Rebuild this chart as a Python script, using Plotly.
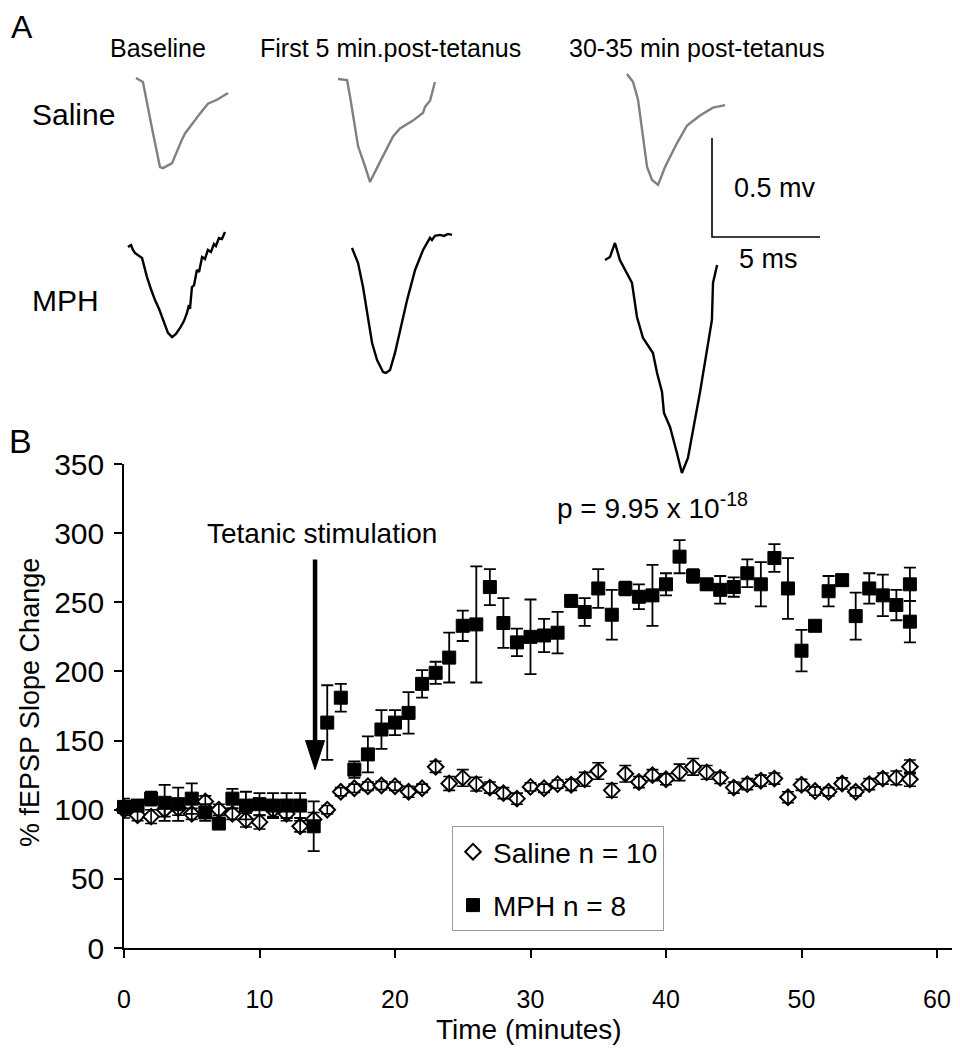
import plotly.graph_objects as go

# ---------------- Panel B data ----------------
time_min = [0, 1, 2, 3, 4, 5, 6, 7, 8, 9, 10, 11, 12, 13, 14, 15, 16, 17, 18, 19,
            20, 21, 22, 23, 24, 25, 26, 27, 28, 29, 30, 31, 32, 33, 34, 35, 36, 37, 38, 39,
            40, 41, 42, 43, 44, 45, 46, 47, 48, 49, 50, 51, 52, 53, 54, 55, 56, 57, 58, 58]

mph_mean = [102, 103, 108, 105, 104, 108, 98, 90, 108, 103, 104, 103, 103, 103, 88, 163, 181, 129, 140, 158,
            163, 170, 191, 199, 210, 233, 234, 261, 235, 221, 225, 226, 228, 251, 243, 260, 241, 260, 254, 255,
            263, 283, 269, 263, 259, 261, 271, 263, 282, 260, 215, 233, 258, 266, 240, 260, 255, 248, 263, 236]
mph_sem = [6, 4, 5, 13, 12, 11, 6, 4, 7, 10, 8, 9, 9, 9, 18, 27, 10, 6, 13, 14,
           9, 15, 10, 8, 18, 11, 42, 13, 18, 10, 27, 12, 15, 4, 10, 14, 18, 5, 9, 22,
           8, 12, 5, 4, 10, 7, 10, 16, 10, 22, 15, 3, 11, 4, 17, 11, 15, 11, 12, 15]

sal_mean = [100, 96, 95, 100, 101, 97, 106, 100, 97, 92.5, 91, 100, 97, 88, 93, 100, 113, 115.5, 117, 117.5,
            117, 113, 115.5, 131, 119, 123, 118.5, 116, 112, 108, 116.5, 115.5, 118.5, 118, 122, 128, 114, 126, 120, 125,
            122, 127, 131, 127, 123, 116, 118.5, 121, 122.5, 109, 118, 113.5, 113, 119, 113, 118.5, 122.5, 123, 131, 122]
sal_sem = [6, 4, 5, 5, 5, 4, 4, 4, 4, 5, 5, 5, 5, 4, 5, 3, 3, 3, 3, 3,
           3, 4, 3, 4, 5, 6, 5, 4, 4, 4, 3, 3, 3, 4, 5, 6, 5, 6, 4, 4,
           4, 6, 6, 5, 4, 4, 4, 4, 4, 4, 4, 3, 3, 4, 3, 4, 4, 5, 5, 5]

x_ticks = [0, 10, 20, 30, 40, 50, 60]
y_ticks = [0, 50, 100, 150, 200, 250, 300, 350]

# ---------------- Panel A field-potential traces (ms, mV from trace start) ----------------
sal_base_t = [0, 0.32, 0.79, 1.11, 1.25, 1.67, 2.13, 2.27, 2.96, 3.33, 3.75, 4.26]
sal_base_v = [0, -0.02, -0.28, -0.45, -0.455, -0.43, -0.31, -0.28, -0.18, -0.13, -0.11, -0.076]

sal_first_t = [0, 0.42, 0.56, 0.93, 1.25, 1.48, 1.94, 2.55, 2.87, 3.47, 3.94, 4.03, 4.26, 4.49]
sal_first_v = [0, -0.005, -0.09, -0.34, -0.44, -0.52, -0.42, -0.29, -0.25, -0.21, -0.17, -0.14, -0.11, -0.015]

sal_late_t = [0, 0.28, 0.51, 0.74, 0.93, 1.16, 1.44, 1.76, 2.31, 2.78, 3.38, 3.98, 4.54]
sal_late_v = [0, -0.04, -0.13, -0.33, -0.47, -0.535, -0.56, -0.47, -0.35, -0.26, -0.21, -0.17, -0.157]

mph_base_t = [0, 0.14, 0.23, 0.32, 0.65, 0.88, 1.06, 1.25, 1.44, 1.62, 1.85, 2.04, 2.22, 2.41, 2.59, 2.73,
              2.82, 2.87, 2.96, 3.06, 3.19, 3.29, 3.43, 3.56, 3.70, 3.84, 3.98, 4.07, 4.21, 4.35, 4.49]
mph_base_v = [0, 0.01, -0.015, -0.03, -0.056, -0.152, -0.212, -0.268, -0.313, -0.369, -0.434, -0.455, -0.439,
              -0.409, -0.374, -0.333, -0.293, -0.313, -0.202, -0.192, -0.116, -0.126, -0.051, -0.061, -0.015,
              -0.025, 0.015, 0.005, 0.045, 0.04, 0.076]

mph_first_t = [0, 0.28, 0.51, 0.74, 0.93, 1.16, 1.44, 1.57, 1.76, 1.99, 2.22, 2.55, 2.92, 3.29, 3.47, 3.61,
               3.70, 3.84, 4.07, 4.26, 4.44, 4.63]
mph_first_v = [0, -0.076, -0.197, -0.364, -0.480, -0.566, -0.626, -0.631, -0.616, -0.530, -0.414, -0.263,
               -0.111, -0.010, 0.025, 0.051, 0.040, 0.061, 0.066, 0.061, 0.071, 0.066]

mph_late_t = [0, 0.23, 0.46, 0.69, 1.25, 1.48, 1.76, 2.22, 2.41, 2.64, 2.73, 3.01, 3.33, 3.56, 3.84, 4.07,
              4.40, 4.72, 4.95, 5.0, 5.19]
mph_late_v = [0, 0.015, 0.086, 0, -0.116, -0.288, -0.394, -0.47, -0.571, -0.667, -0.773, -0.843, -0.975,
              -1.076, -1.0, -0.869, -0.667, -0.455, -0.303, -0.116, -0.025]

scale_ms = 5
scale_mv = 0.5

# ---------------- Layout geometry ----------------
PAGE_W, PAGE_H = 960, 1050
BODY = 8                      # default page margin around the plot div
W, H = PAGE_W - BODY, PAGE_H - BODY
PX_PER_MS = 21.6
PX_PER_MV = 198.0
FONT = "Arial, Liberation Sans, Helvetica, sans-serif"
GRAY = "#808080"


def fx(px):
    return (px - BODY) / W


def fy(py):
    return 1 - (py - BODY) / H


def ms_at(px):
    return (px - BODY) / PX_PER_MS


def mv_at(py):
    return -(py - BODY) / PX_PER_MV


fig = go.Figure()

# ---- Panel B series ----
fig.add_trace(go.Scatter(
    x=time_min, y=sal_mean, mode="markers", name="Saline n = 10", legendgroup="sal",
    marker=dict(symbol="diamond", size=12, color="white", line=dict(color="black", width=2)),
    xaxis="x", yaxis="y", cliponaxis=False,
))
# saline error bars drawn over the open diamonds
fig.add_trace(go.Scatter(
    x=time_min, y=sal_mean, mode="markers", showlegend=False, legendgroup="sal",
    marker=dict(symbol="diamond", size=12, opacity=0),
    error_y=dict(type="data", array=sal_sem, color="black", thickness=1.6, width=6),
    xaxis="x", yaxis="y", cliponaxis=False, hoverinfo="skip",
))
fig.add_trace(go.Scatter(
    x=time_min, y=mph_mean, mode="markers", name="MPH n = 8", legendgroup="mph",
    marker=dict(symbol="square", size=13, color="black", line=dict(color="black", width=1)),
    error_y=dict(type="data", array=mph_sem, color="black", thickness=1.8, width=6),
    xaxis="x", yaxis="y", cliponaxis=False,
))

# ---- Panel A traces on an overlay axis (ms / mV) ----
trace_specs = [
    (sal_base_t, sal_base_v, (136, 78), GRAY),
    (sal_first_t, sal_first_v, (338, 79), GRAY),
    (sal_late_t, sal_late_v, (627, 74), GRAY),
    (mph_base_t, mph_base_v, (128, 247), "black"),
    (mph_first_t, mph_first_v, (352, 248), "black"),
    (mph_late_t, mph_late_v, (605, 260), "black"),
]
for ts, vs, (ax0, ay0), col in trace_specs:
    fig.add_trace(go.Scatter(
        x=[ms_at(ax0) + t for t in ts], y=[mv_at(ay0) + v for v in vs],
        mode="lines", line=dict(color=col, width=2.4), showlegend=False,
        xaxis="x2", yaxis="y2", hoverinfo="skip",
    ))

# scale bar
corner_ms, corner_mv = ms_at(712), mv_at(237)
fig.add_trace(go.Scatter(
    x=[corner_ms, corner_ms, corner_ms + scale_ms],
    y=[corner_mv + scale_mv, corner_mv, corner_mv],
    mode="lines", line=dict(color="black", width=1.6), showlegend=False,
    xaxis="x2", yaxis="y2", hoverinfo="skip",
))

# ---- Axes ----
fig.update_layout(
    template="none",
    width=W, height=H, margin=dict(l=0, r=0, t=0, b=0, pad=0, autoexpand=False),
    paper_bgcolor="white", plot_bgcolor="rgba(0,0,0,0)",
    font=dict(family=FONT, color="black"),
    xaxis=dict(domain=[fx(124), fx(958)], range=[0, 61.55], anchor="y", automargin=False,
               showline=True, linecolor="black", linewidth=1.5, mirror=False,
               ticks="outside", ticklen=8, tickwidth=1.5, tickcolor="black",
               tickvals=x_ticks, tickfont=dict(size=25), ticklabelstandoff=20,
               showgrid=False, zeroline=False),
    yaxis=dict(domain=[fy(948), fy(464)], range=[0, 350], anchor="x", automargin=False,
               showline=True, linecolor="black", linewidth=1.5,
               ticks="outside", ticklen=8, tickwidth=1.5, tickcolor="black",
               tickvals=y_ticks, tickfont=dict(size=30), ticklabelstandoff=4,
               showgrid=False, zeroline=False),
    xaxis2=dict(domain=[0, 1], range=[0, W / PX_PER_MS], anchor="y2", visible=False,
                fixedrange=True, automargin=False),
    yaxis2=dict(domain=[0, 1], range=[-H / PX_PER_MV, 0], anchor="x2", visible=False,
                fixedrange=True, automargin=False),
    legend=dict(x=fx(452), y=fy(826), xanchor="left", yanchor="top",
                bordercolor="#999999", borderwidth=1, bgcolor="white",
                font=dict(size=28, family=FONT), tracegroupgap=14, itemwidth=30),
    showlegend=True,
)

# ---- Arrow for tetanic stimulation ----
arrow_t = 14.1
arrow_top, arrow_base, arrow_tip = 281, 150, 129
fig.add_shape(type="line", xref="x", yref="y", x0=arrow_t, x1=arrow_t, y0=arrow_top, y1=arrow_base,
              line=dict(color="black", width=4.5))
fig.add_shape(type="path", xref="x", yref="y", xsizemode="pixel", ysizemode="pixel",
              xanchor=arrow_t, yanchor=arrow_tip, path="M0,0 L-9.5,29 L9.5,29 Z",
              fillcolor="black", line=dict(color="black", width=1))

# ---- Text ----
def label(text, x, y, size, xanchor="center", yanchor="middle", angle=0):
    fig.add_annotation(text=text, x=fx(x), y=fy(y), xref="paper", yref="paper",
                       xanchor=xanchor, yanchor=yanchor, showarrow=False, textangle=angle,
                       font=dict(size=size, family=FONT, color="black"))

label("A", 22, 27, 32)
label("B", 20, 441, 34)
label("Baseline", 158, 48, 25)
label("First 5 min.post-tetanus", 390, 48, 25)
label("30-35 min post-tetanus", 697, 48, 25)
label("Saline", 30, 115, 30, xanchor="left")
label("MPH", 30, 300, 30, xanchor="left")
label("0.5 mv", 732, 188, 27, xanchor="left")
label("5 ms", 737, 259, 27, xanchor="left")
label("Tetanic stimulation", 322, 533, 28)
label("p = 9.95 x 10<sup>-18</sup>", 555, 506, 28, xanchor="left")
label("Time (minutes)", 529, 1029, 28)
label("% fEPSP Slope Change", 30, 703, 27, angle=-90)

fig.write_html("out.html")
